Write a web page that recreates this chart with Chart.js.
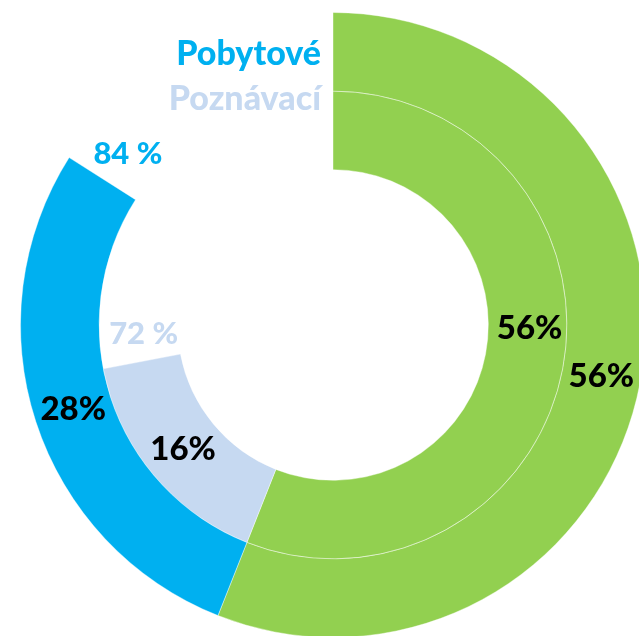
<!DOCTYPE html>
<html lang="cs">
<head>
    <meta charset="UTF-8">
    <title>Pobytové a poznávací</title>
    <style>
        html, body {
            margin: 0;
            padding: 0;
            background: #ffffff;
            overflow: hidden;
        }
        #chart {
            position: absolute;
            left: 0;
            top: 0;
        }
    </style>
    <script src="https://cdn.jsdelivr.net/npm/chart.js"></script>
</head>
<body>

<canvas id="chart" width="666" height="650"></canvas>

<script>
    // data
    const segments = ['Ostatní', 'Podíl', 'Zbytek'];
    const seriesNames = ['Pobytové', 'Poznávací'];
    const pobytove = [56, 28, 16];
    const poznavaci = [56, 16, 28];

    const green = '#92D050';
    const blue = '#00B0F0';
    const lightBlue = '#C6D9F1';
    const sep = 'rgba(255,255,255,0.4)';

    const FONT = 'Lato, "Open Sans", sans-serif';

    // percent labels inside the slices + total labels at the ring ends
    const labelPlugin = {
        id: 'ringLabels',
        afterDatasetsDraw(chart) {
            const ctx = chart.ctx;
            ctx.save();
            ctx.textAlign = 'center';
            ctx.textBaseline = 'middle';

            chart.data.datasets.forEach((ds, di) => {
                const meta = chart.getDatasetMeta(di);
                meta.data.forEach((arc, i) => {
                    if (i > 1) return;
                    let p = arc.tooltipPosition();
                    // inner green label sits a bit higher in the original
                    if (di === 1 && i === 0) {
                        const a = (arc.startAngle + arc.endAngle) / 2 - 0.17;
                        const r = (arc.innerRadius + arc.outerRadius) / 2 + 2;
                        p = { x: arc.x + r * Math.cos(a), y: arc.y + r * Math.sin(a) };
                    }
                    ctx.font = '900 33px ' + FONT;
                    ctx.fillStyle = '#000000';
                    ctx.fillText(ds.data[i] + '%', p.x, p.y);
                });

                // total of the two coloured slices, placed just after the last one
                const last = meta.data[1];
                const total = ds.data[0] + ds.data[1];
                const r = (last.innerRadius + last.outerRadius) / 2 - (di === 0 ? 6 : 5);
                const a = last.endAngle + (di === 0 ? 0.13 : 0.14);
                ctx.font = '900 31px ' + FONT;
                ctx.fillStyle = di === 0 ? blue : lightBlue;
                ctx.fillText(total + ' %', last.x + r * Math.cos(a), last.y + r * Math.sin(a));
            });

            // series names, top left
            ctx.textAlign = 'right';
            ctx.textBaseline = 'alphabetic';
            ctx.font = '900 34px ' + FONT;
            ctx.fillStyle = blue;
            ctx.fillText(seriesNames[0], 321, 65);
            ctx.fillStyle = lightBlue;
            ctx.fillText(seriesNames[1], 321, 110);
            ctx.restore();
        }
    };

    const ctx = document.getElementById('chart').getContext('2d');
    const chart = new Chart(ctx, {
        type: 'doughnut',
        data: {
            labels: segments,
            datasets: [
                {
                    label: seriesNames[0],
                    data: pobytove,
                    backgroundColor: [green, blue, 'rgba(0,0,0,0)'],
                    borderColor: [sep, sep, 'rgba(0,0,0,0)'],
                    borderWidth: 1
                },
                {
                    label: seriesNames[1],
                    data: poznavaci,
                    backgroundColor: [green, lightBlue, 'rgba(0,0,0,0)'],
                    borderColor: [sep, sep, 'rgba(0,0,0,0)'],
                    borderWidth: 1
                }
            ]
        },
        options: {
            responsive: false,
            animation: false,
            cutout: '49.7%',
            layout: {
                padding: { left: 20, right: 20, top: 12, bottom: 12 }
            },
            plugins: {
                legend: { display: false },
                tooltip: { enabled: false }
            }
        },
        plugins: [labelPlugin]
    });
</script>

</body>
</html>
